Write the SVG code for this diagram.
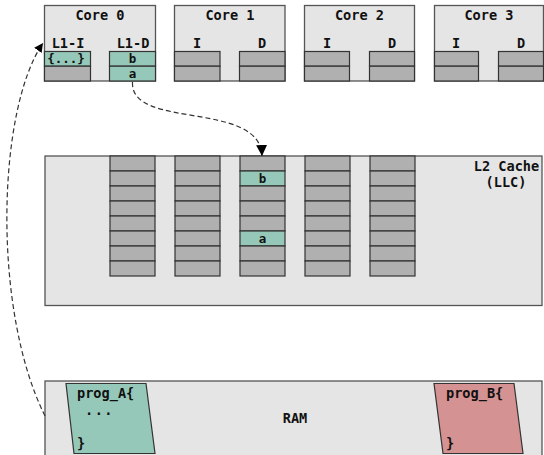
<svg xmlns="http://www.w3.org/2000/svg" width="544" height="455" viewBox="0 0 544 455">
<style>
.box{fill:#e5e5e5;stroke:#555;stroke-width:1.3}
.blk{fill:#b0b0b0;stroke:#333;stroke-width:1.2}
.hit{fill:#96c8b9;stroke:#333;stroke-width:1.2}
.t{font-family:"DejaVu Sans Mono","Liberation Mono",monospace;font-weight:bold;font-size:13.6px;fill:#111}
.s{font-family:"DejaVu Sans Mono","Liberation Mono",monospace;font-weight:bold;font-size:12.5px;fill:#111;text-anchor:middle}
.c{text-anchor:middle}
.dash{fill:none;stroke:#333;stroke-width:1.2;stroke-dasharray:5 3}
</style>
<defs>
<marker id="ah" viewBox="0 0 10 10" refX="10" refY="5" markerWidth="9" markerHeight="9" markerUnits="userSpaceOnUse" orient="auto">
<path d="M0,0 L10,5 L0,10 Z" fill="#000"/>
</marker>
<marker id="ah2" viewBox="0 0 10 10" refX="10" refY="5" markerWidth="11" markerHeight="11" markerUnits="userSpaceOnUse" orient="auto">
<path d="M0,0 L10,5 L0,10 Z" fill="#000"/>
</marker>
</defs>

<g id="core0">
<rect class="box" x="44.5" y="5.5" width="111" height="75.5"/>
<text class="t c" x="100" y="20">Core 0</text>
<text class="t c" x="68" y="48">L1-I</text>
<text class="t c" x="133" y="48">L1-D</text>
<rect class="hit" x="44.5" y="51.5" width="46" height="14.7"/>
<rect class="blk" x="44.5" y="66.2" width="46" height="14.8"/>
<rect class="hit" x="109.5" y="51.5" width="46" height="14.7"/>
<rect class="hit" x="109.5" y="66.2" width="46" height="14.8"/>
<text class="s" x="66" y="63">{...}</text>
<text class="s" x="132.5" y="63">b</text>
<text class="s" x="132.5" y="77.5">a</text>
</g>

<g id="core1">
<rect class="box" x="174.5" y="5.5" width="110.5" height="75.5"/>
<text class="t c" x="230" y="20">Core 1</text>
<text class="t c" x="197" y="48">I</text>
<text class="t c" x="262" y="48">D</text>
<rect class="blk" x="174.5" y="51.5" width="45.5" height="14.7"/>
<rect class="blk" x="174.5" y="66.2" width="45.5" height="14.8"/>
<rect class="blk" x="239.5" y="51.5" width="45.5" height="14.7"/>
<rect class="blk" x="239.5" y="66.2" width="45.5" height="14.8"/>
</g>

<g id="core2">
<rect class="box" x="304.5" y="5.5" width="110" height="75.5"/>
<text class="t c" x="359.5" y="20">Core 2</text>
<text class="t c" x="327" y="48">I</text>
<text class="t c" x="392" y="48">D</text>
<rect class="blk" x="304.5" y="51.5" width="45" height="14.7"/>
<rect class="blk" x="304.5" y="66.2" width="45" height="14.8"/>
<rect class="blk" x="369.5" y="51.5" width="45" height="14.7"/>
<rect class="blk" x="369.5" y="66.2" width="45" height="14.8"/>
</g>

<g id="core3">
<rect class="box" x="434.5" y="5.5" width="109" height="75.5"/>
<text class="t c" x="489" y="20">Core 3</text>
<text class="t c" x="456" y="48">I</text>
<text class="t c" x="521" y="48">D</text>
<rect class="blk" x="434.5" y="51.5" width="44" height="14.7"/>
<rect class="blk" x="434.5" y="66.2" width="44" height="14.8"/>
<rect class="blk" x="498.5" y="51.5" width="45" height="14.7"/>
<rect class="blk" x="498.5" y="66.2" width="45" height="14.8"/>
</g>

<g id="l2">
<rect class="box" x="45" y="156" width="497" height="149.5"/>
<text class="t c" x="506.5" y="171">L2 Cache</text>
<text class="t c" x="506" y="187">(LLC)</text>
<g id="l2col1">
<rect class="blk" x="110" y="156" width="45" height="15"/>
<rect class="blk" x="110" y="171" width="45" height="15"/>
<rect class="blk" x="110" y="186" width="45" height="15"/>
<rect class="blk" x="110" y="201" width="45" height="15"/>
<rect class="blk" x="110" y="216" width="45" height="15"/>
<rect class="blk" x="110" y="231" width="45" height="15"/>
<rect class="blk" x="110" y="246" width="45" height="15"/>
<rect class="blk" x="110" y="261" width="45" height="15"/>
</g>
<g id="l2col2">
<rect class="blk" x="175" y="156" width="45" height="15"/>
<rect class="blk" x="175" y="171" width="45" height="15"/>
<rect class="blk" x="175" y="186" width="45" height="15"/>
<rect class="blk" x="175" y="201" width="45" height="15"/>
<rect class="blk" x="175" y="216" width="45" height="15"/>
<rect class="blk" x="175" y="231" width="45" height="15"/>
<rect class="blk" x="175" y="246" width="45" height="15"/>
<rect class="blk" x="175" y="261" width="45" height="15"/>
</g>
<g id="l2col3">
<rect class="blk" x="240" y="156" width="45" height="15"/>
<rect class="hit" x="240" y="171" width="45" height="15"/>
<rect class="blk" x="240" y="186" width="45" height="15"/>
<rect class="blk" x="240" y="201" width="45" height="15"/>
<rect class="blk" x="240" y="216" width="45" height="15"/>
<rect class="hit" x="240" y="231" width="45" height="15"/>
<rect class="blk" x="240" y="246" width="45" height="15"/>
<rect class="blk" x="240" y="261" width="45" height="15"/>
<text class="s" x="262.5" y="183">b</text>
<text class="s" x="262.5" y="243">a</text>
</g>
<g id="l2col4">
<rect class="blk" x="305" y="156" width="45" height="15"/>
<rect class="blk" x="305" y="171" width="45" height="15"/>
<rect class="blk" x="305" y="186" width="45" height="15"/>
<rect class="blk" x="305" y="201" width="45" height="15"/>
<rect class="blk" x="305" y="216" width="45" height="15"/>
<rect class="blk" x="305" y="231" width="45" height="15"/>
<rect class="blk" x="305" y="246" width="45" height="15"/>
<rect class="blk" x="305" y="261" width="45" height="15"/>
</g>
<g id="l2col5">
<rect class="blk" x="370" y="156" width="45" height="15"/>
<rect class="blk" x="370" y="171" width="45" height="15"/>
<rect class="blk" x="370" y="186" width="45" height="15"/>
<rect class="blk" x="370" y="201" width="45" height="15"/>
<rect class="blk" x="370" y="216" width="45" height="15"/>
<rect class="blk" x="370" y="231" width="45" height="15"/>
<rect class="blk" x="370" y="246" width="45" height="15"/>
<rect class="blk" x="370" y="261" width="45" height="15"/>
</g>
</g>

<g id="ram">
<rect class="box" x="45" y="381" width="497" height="80"/>
<text class="t c" x="295" y="423">RAM</text>
</g>

<g id="progA">
<polygon points="66,383.5 146,383.5 155,453.5 74,453.5" fill="#96c8b9" stroke="#333" stroke-width="1.2"/>
<text class="t" x="77" y="398">prog_A{</text>
<text class="t" x="85" y="415" letter-spacing="1.5">...</text>
<text class="t" x="77" y="448">}</text>
</g>

<g id="progB">
<polygon points="434,383.5 514,383.5 523,453.5 443,453.5" fill="#d49292" stroke="#333" stroke-width="1.2"/>
<text class="t" x="446" y="398">prog_B{</text>
<text class="t" x="446" y="448">}</text>
</g>

<g id="connectors">
<path class="dash" d="M132.5,82 C130,130 260,100 262,156" marker-end="url(#ah2)"/>
<path class="dash" d="M45,416 C-8,310 -3,110 43,43" marker-end="url(#ah)"/>
</g>
</svg>
